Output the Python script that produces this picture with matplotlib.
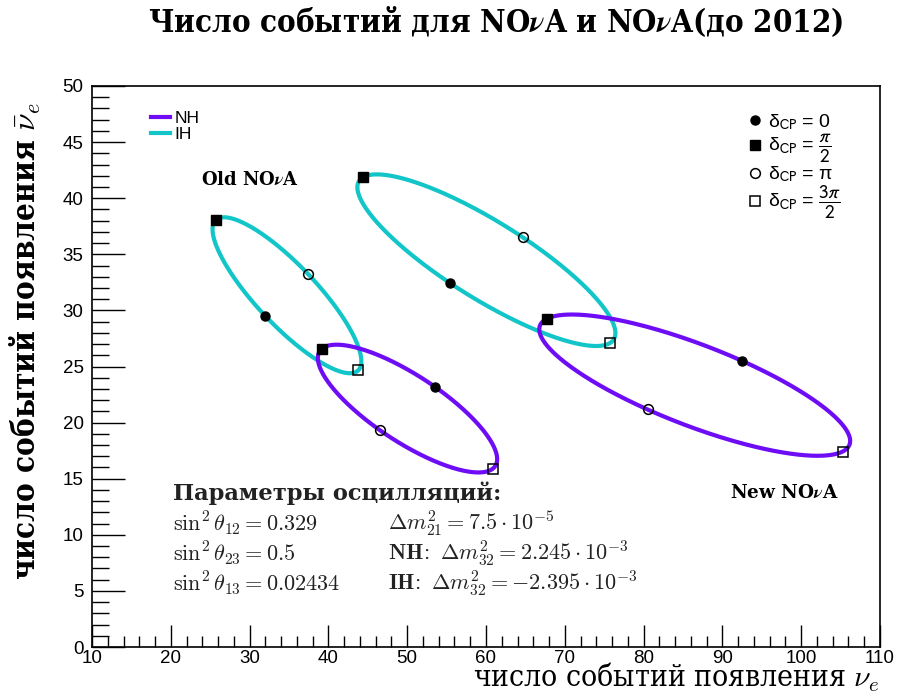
import numpy as np
import matplotlib
matplotlib.use("Agg")
import matplotlib.pyplot as plt
from matplotlib.lines import Line2D
from matplotlib.ticker import MultipleLocator

# ---- data ----
# marker points at delta_CP = 0, pi/2, pi, 3pi/2 for each ellipse
old_ih_x = [32.0, 25.7, 37.45, 43.8]
old_ih_y = [29.5, 38.05, 33.2, 24.65]
old_nh_x = [53.5, 39.2, 46.55, 60.9]
old_nh_y = [23.2, 26.6, 19.3, 15.9]
new_ih_x = [55.4, 44.35, 64.7, 75.75]
new_ih_y = [32.45, 41.85, 36.5, 27.1]
new_nh_x = [92.5, 67.7, 80.5, 105.25]
new_nh_y = [25.5, 29.25, 21.2, 17.4]

x_ticks = [10, 20, 30, 40, 50, 60, 70, 80, 90, 100, 110]
y_ticks = [0, 5, 10, 15, 20, 25, 30, 35, 40, 45, 50]

NH_COL = '#6e0cf5'
IH_COL = '#12c5c8'

plt.rcParams['mathtext.fontset'] = 'cm'

fig = plt.figure(figsize=(9.06, 6.96), dpi=100)
ax = fig.add_axes([92/906, 1-647/696, (880-92)/906, (647-86)/696])


def ellipse(xs, ys):
    # ellipse through the four delta_CP points (0, pi/2 and pi, 3pi/2 are opposite)
    cx = (xs[0] + xs[2] + xs[1] + xs[3]) / 4
    cy = (ys[0] + ys[2] + ys[1] + ys[3]) / 4
    d = np.linspace(0, 2*np.pi, 400)
    ex = cx + (xs[0]-cx)*np.cos(d) + (xs[1]-cx)*np.sin(d)
    ey = cy + (ys[0]-cy)*np.cos(d) + (ys[1]-cy)*np.sin(d)
    return ex, ey

sets = [(old_ih_x, old_ih_y, IH_COL), (old_nh_x, old_nh_y, NH_COL),
        (new_ih_x, new_ih_y, IH_COL), (new_nh_x, new_nh_y, NH_COL)]
for xs, ys, c in sets:
    ex, ey = ellipse(xs, ys)
    ax.plot(ex, ey, color=c, lw=3.0, solid_capstyle='round', zorder=2)

mk = [dict(marker='o', mfc='k', mec='k', ms=6.5),
      dict(marker='s', mfc='k', mec='k', ms=6.5),
      dict(marker='o', mfc='none', mec='k', ms=7, mew=1.1),
      dict(marker='s', mfc='none', mec='k', ms=7, mew=1.1)]
for xs, ys, c in sets:
    for i in range(4):
        ax.plot([xs[i]], [ys[i]], ls='none', zorder=3, **mk[i])

ax.set_xlim(10, 110)
ax.set_ylim(0, 50)
ax.set_xticks(x_ticks)
ax.set_yticks(y_ticks)
ax.xaxis.set_minor_locator(MultipleLocator(2))
ax.yaxis.set_minor_locator(MultipleLocator(1))
ax.tick_params(axis='x', which='major', direction='in', length=16, width=1, pad=2)
ax.tick_params(axis='x', which='minor', direction='in', length=8, width=1)
ax.tick_params(axis='y', which='major', direction='in', length=24, width=1, pad=6)
ax.tick_params(axis='y', which='minor', direction='in', length=12, width=1)
for lab in ax.get_xticklabels() + ax.get_yticklabels():
    lab.set_fontfamily('Liberation Sans')
    lab.set_fontsize(13.5)
for sp in ax.spines.values():
    sp.set_linewidth(1.2)

# titles and axis labels
fig.text(496/906, 1-22/696, r'Число событий для NO$\boldsymbol{\nu}$A и NO$\boldsymbol{\nu}$A(до 2012)',
         ha='center', va='center', fontsize=22.4, fontweight='bold', family='DejaVu Serif',
         fontstretch='condensed')
fig.text(880/906, 1-687/696, r'число событий появления $\nu_e$',
         ha='right', va='baseline', fontsize=21.5, family='DejaVu Serif', fontstretch='condensed')
fig.text(25/906, 1-341/696, r'число событий появления $\bar{\nu}_e$',
         ha='center', va='center', rotation=90, fontsize=22.6, fontweight='bold',
         family='DejaVu Serif', fontstretch='condensed')

# legends
h1 = [Line2D([], [], color=NH_COL, lw=3), Line2D([], [], color=IH_COL, lw=3)]
leg1 = ax.legend(h1, ['NH', 'IH'], loc='upper left', bbox_to_anchor=(0.055, 0.984),
                 frameon=False, handlelength=1.1, handletextpad=0.25, labelspacing=0.05,
                 prop={'family': 'Liberation Sans', 'size': 12.5})
ax.add_artist(leg1)

h2 = [Line2D([], [], ls='none', **m) for m in mk]
labs = [r'δ$_{\mathrm{CP}}$ = 0', r'δ$_{\mathrm{CP}}$ = $\dfrac{\pi}{2}$',
        r'δ$_{\mathrm{CP}}$ = π', r'δ$_{\mathrm{CP}}$ = $\dfrac{3\pi}{2}$']
ax.legend(h2, labs, loc='upper left', bbox_to_anchor=(0.81, 0.985), frameon=False,
          handlelength=0.7, handletextpad=0.35, labelspacing=0.0,
          prop={'family': 'Liberation Sans', 'size': 14, 'math_fontfamily': 'stixsans'})

# annotations
ax.text(30.0, 41.6, r'Old NO$\boldsymbol{\nu}$A', ha='center', va='center', fontsize=13,
        fontweight='bold', family='DejaVu Serif')
ax.text(97.9, 13.7, r'New NO$\boldsymbol{\nu}$A', ha='center', va='center', fontsize=13.2,
        fontweight='bold', family='DejaVu Serif')

fs = 16
ax.text(20.3, 13.7, 'Параметры осцилляций:', ha='left', va='center', fontsize=16.2,
        fontweight='bold', family='DejaVu Serif', color='#222222')
rows = [(r'$\sin^2\theta_{12} = 0.329$', r'$\Delta m^2_{21} = 7.5\cdot10^{-5}$'),
        (r'$\sin^2\theta_{23} = 0.5$', r'$\mathbf{NH\!:}\ \Delta m^2_{32} = 2.245\cdot10^{-3}$'),
        (r'$\sin^2\theta_{13} = 0.02434$', r'$\mathbf{IH\!:}\ \Delta m^2_{32} = -2.395\cdot10^{-3}$')]
ys_rows = [11.05, 8.38, 5.7]
for (a, b), yy in zip(rows, ys_rows):
    ax.text(20.3, yy, a, ha='left', va='center', fontsize=fs, color='#222222')
    ax.text(47.6, yy, b, ha='left', va='center', fontsize=fs, color='#222222')

fig.savefig('out.png', dpi=100)
